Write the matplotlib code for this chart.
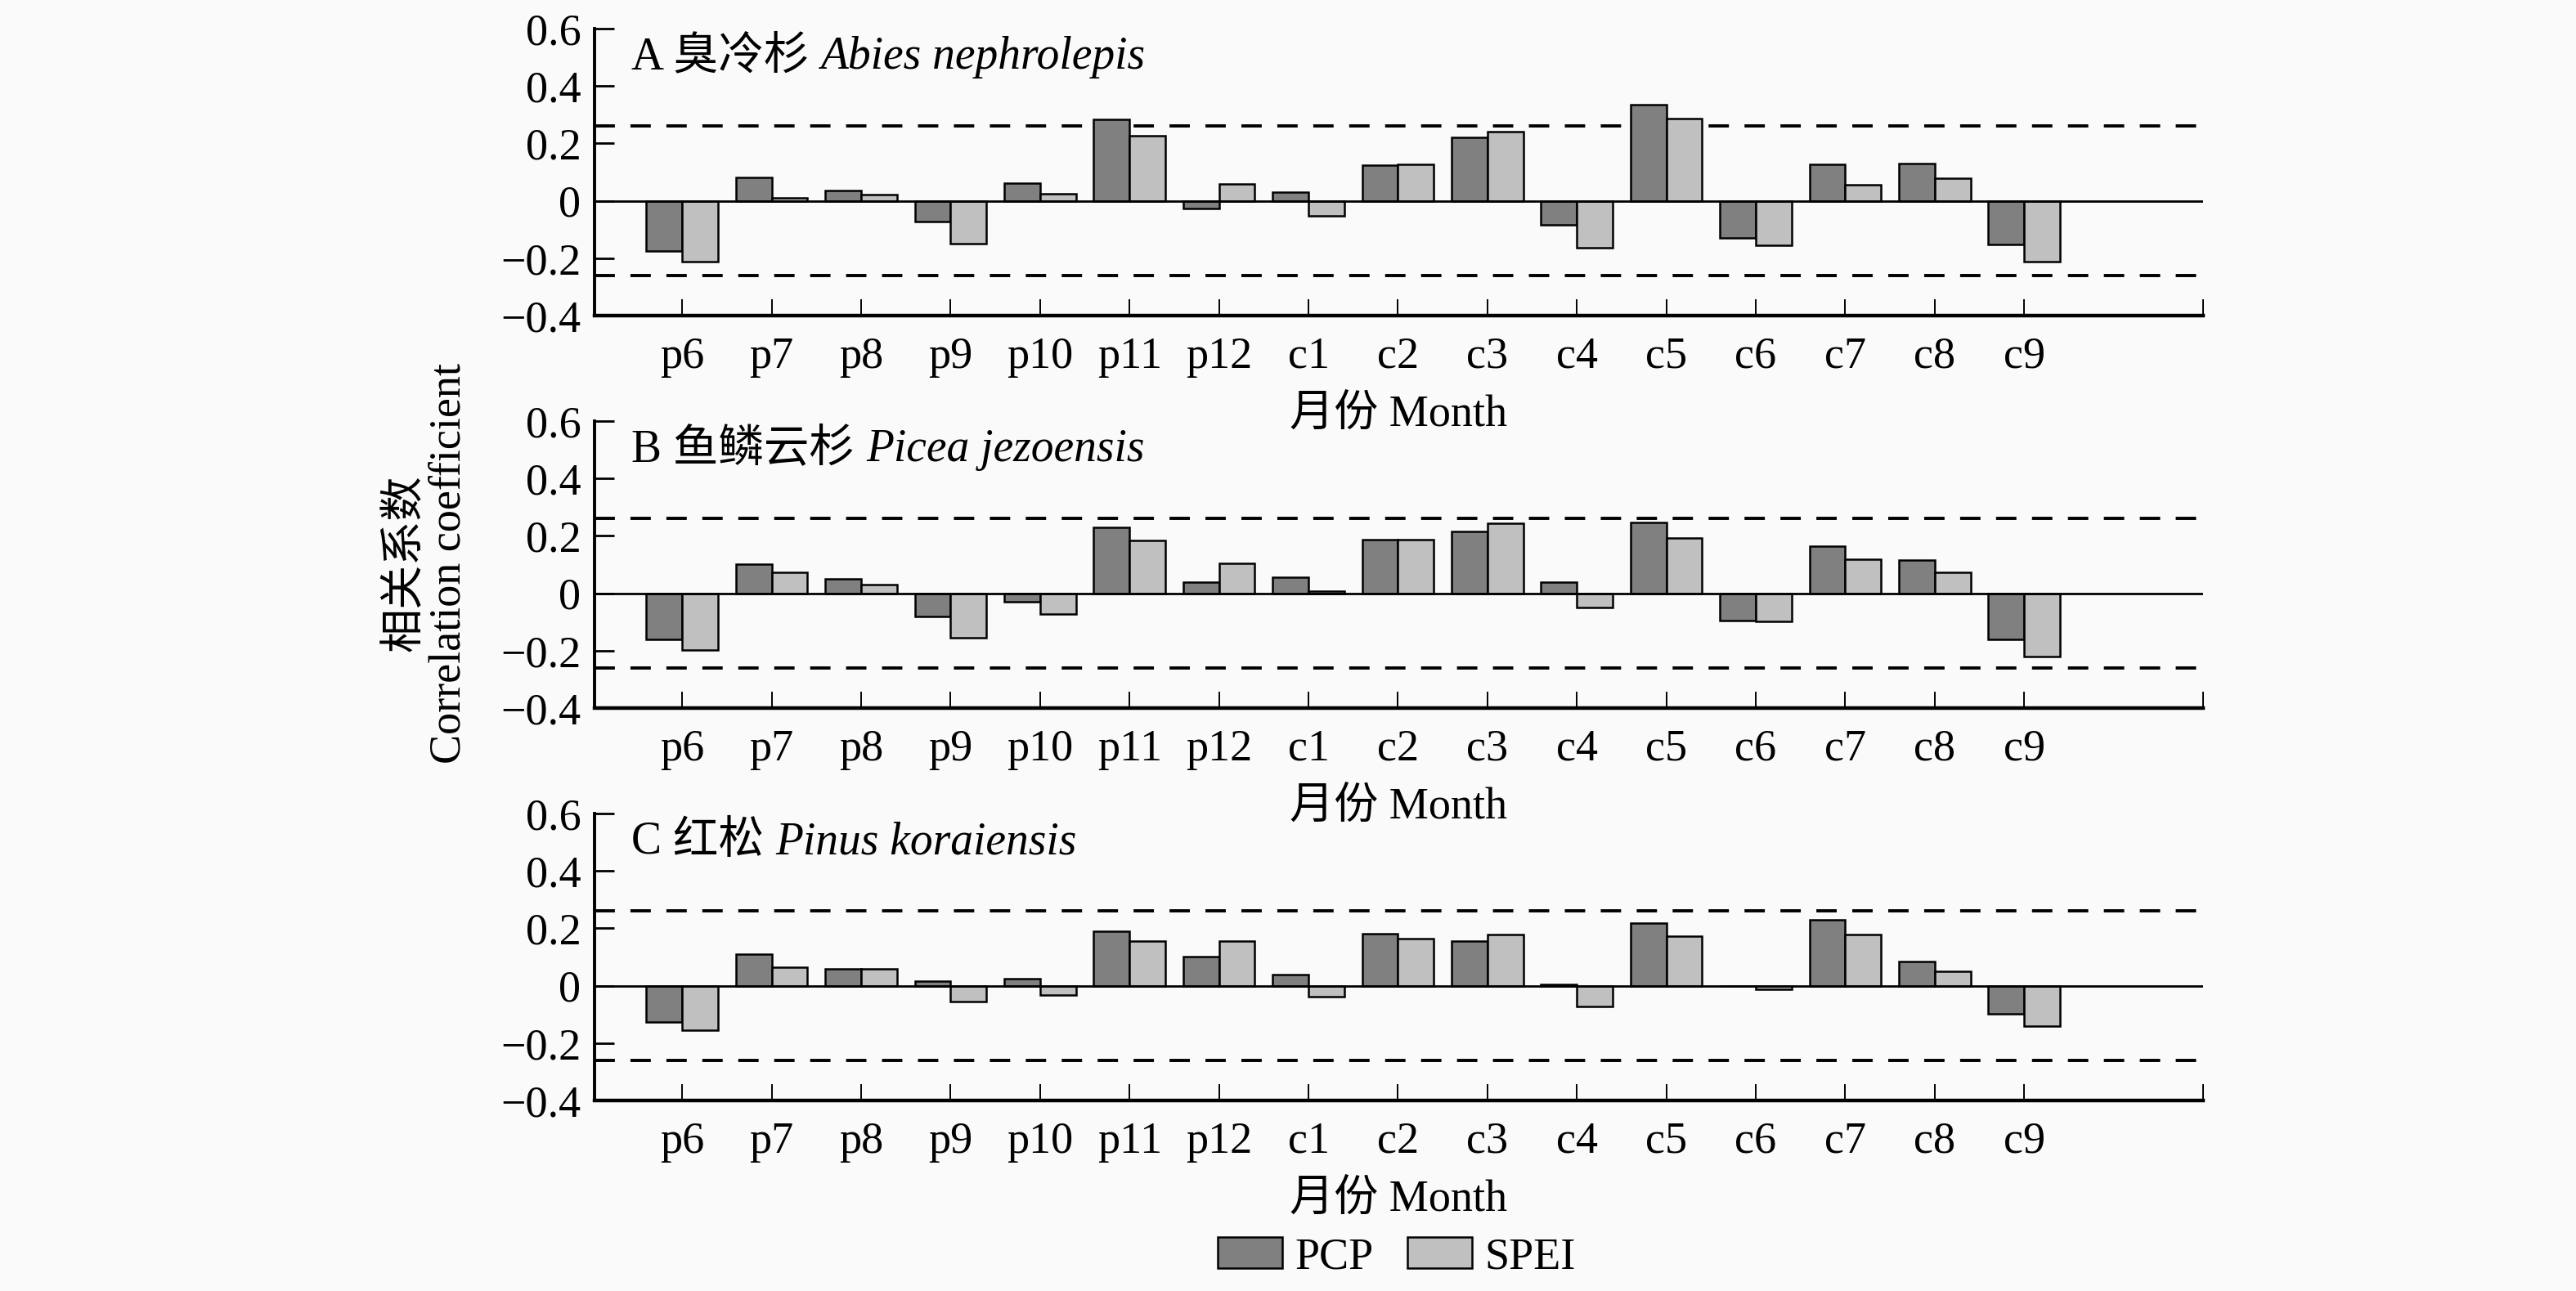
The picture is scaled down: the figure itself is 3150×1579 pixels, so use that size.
import matplotlib
matplotlib.use('Agg')
import matplotlib.pyplot as plt
import numpy as np
from matplotlib.patches import Patch
from matplotlib.transforms import blended_transform_factory

plt.rcParams['font.family'] = ['Liberation Serif', 'Noto Sans CJK SC']
plt.rcParams['font.size'] = 19.5
plt.rcParams['axes.unicode_minus'] = True

# 月份 (前一年 p, 当年 c)
months = ['p6', 'p7', 'p8', 'p9', 'p10', 'p11', 'p12',
          'c1', 'c2', 'c3', 'c4', 'c5', 'c6', 'c7', 'c8', 'c9']

# A 臭冷杉
pcp_a = [-0.174, 0.081, 0.035, -0.073, 0.061, 0.285, -0.027, 0.029,
         0.124, 0.220, -0.085, 0.336, -0.129, 0.128, 0.131, -0.153]
spei_a = [-0.212, 0.011, 0.022, -0.149, 0.024, 0.226, 0.058, -0.052,
          0.127, 0.242, -0.164, 0.287, -0.155, 0.057, 0.080, -0.212]
# B 鱼鳞云杉
pcp_b = [-0.161, 0.102, 0.051, -0.082, -0.030, 0.231, 0.038, 0.057,
         0.188, 0.216, 0.038, 0.248, -0.095, 0.163, 0.117, -0.161]
spei_b = [-0.197, 0.073, 0.029, -0.156, -0.073, 0.183, 0.103, 0.006,
          0.186, 0.245, -0.049, 0.193, -0.099, 0.119, 0.074, -0.220]
# C 红松
pcp_c = [-0.127, 0.111, 0.060, 0.015, 0.024, 0.191, 0.102, 0.038,
         0.182, 0.156, 0.004, 0.219, 0.000, 0.231, 0.083, -0.097]
spei_c = [-0.155, 0.065, 0.060, -0.056, -0.033, 0.156, 0.155, -0.038,
          0.163, 0.177, -0.073, 0.173, -0.013, 0.179, 0.049, -0.142]

panel_labels = ['A 臭冷杉', 'B 鱼鳞云杉', 'C 红松']
species = ['Abies nephrolepis', 'Picea jezoensis', 'Pinus koraiensis']
sig_level = 0.26

pcp_all = [pcp_a, pcp_b, pcp_c]
spei_all = [spei_a, spei_b, spei_c]

bg = '#fafafa'
pcp_color = '#808080'
spei_color = '#c0c0c0'

fig = plt.figure(figsize=(15.75, 7.895), dpi=200, facecolor=bg)

left = 727 / 3150
width = (2694 - 727) / 3150
height = 351 / 1579
bottoms = [1 - 386 / 1579, 1 - 866 / 1579, 1 - 1346 / 1579]

x = np.arange(len(months))
bw = 0.4
axes = []
for i in range(3):
    ax = fig.add_axes([left, bottoms[i], width, height])
    ax.patch.set_visible(False)  # 否则下一个子图会盖住上面的 xlabel
    axes.append(ax)
    ax.bar(x - bw / 2, pcp_all[i], bw, color=pcp_color, edgecolor='black', linewidth=0.9, zorder=3)
    ax.bar(x + bw / 2, spei_all[i], bw, color=spei_color, edgecolor='black', linewidth=0.9, zorder=3)
    ax.axhline(0, color='black', linewidth=1.0, zorder=4)
    for s in (sig_level, -sig_level):
        ax.axhline(s, color='black', linewidth=1.4, dashes=(6.4, 4.9), zorder=2)

    ax.set_xlim(-0.98, 17)
    ax.set_ylim(-0.4, 0.6)
    ax.set_yticks([-0.4, -0.2, 0, 0.2, 0.4, 0.6])
    ax.set_yticklabels(['\u22120.4', '\u22120.2', '0', '0.2', '0.4', '0.6'])
    ax.set_xticks(list(x) + [17])
    ax.set_xticklabels(months + [''])
    ax.tick_params(axis='x', direction='in', length=7.2, width=0.7, pad=9)
    ax.tick_params(axis='y', direction='in', length=8.6, width=1.0, pad=6)
    for side in ('top', 'right'):
        ax.spines[side].set_visible(False)
    ax.spines['left'].set_linewidth(1.4)
    ax.spines['bottom'].set_linewidth(1.6)
    ax.set_xlabel('月份 Month', labelpad=7.5)

# 图内标题: 中文 + 斜体拉丁名
title_size = 20.0
fig.canvas.draw()
renderer = fig.canvas.get_renderer()
for i, ax in enumerate(axes):
    trans = blended_transform_factory(ax.transAxes, ax.transData)
    t1 = ax.text(0.023, 0.46, panel_labels[i], transform=trans, va='baseline', ha='left',
                 fontsize=title_size)
    bb = t1.get_window_extent(renderer)
    gap = title_size * 0.25 * fig.dpi / 72
    x2 = ax.transAxes.inverted().transform((bb.x1 + gap, 0))[0]
    ax.text(x2, 0.46, species[i], transform=trans, va='baseline', ha='left',
            fontstyle='italic', fontsize=title_size)

fig.text(523 / 3150, 1 - 689 / 1579, '相关系数\nCorrelation coefficient',
         rotation=90, ha='center', va='center', linespacing=1.05)

handles = [Patch(facecolor=pcp_color, edgecolor='black', linewidth=0.9),
           Patch(facecolor=spei_color, edgecolor='black', linewidth=0.9)]
fig.legend(handles, ['PCP', 'SPEI'], loc='center', ncol=2, frameon=False,
           bbox_to_anchor=(1708 / 3150, 1 - 1538 / 1579),
           handlelength=1.46, handleheight=0.7, handletextpad=0.29,
           columnspacing=0.76)

fig.savefig('out.png', dpi=200, facecolor=bg)
